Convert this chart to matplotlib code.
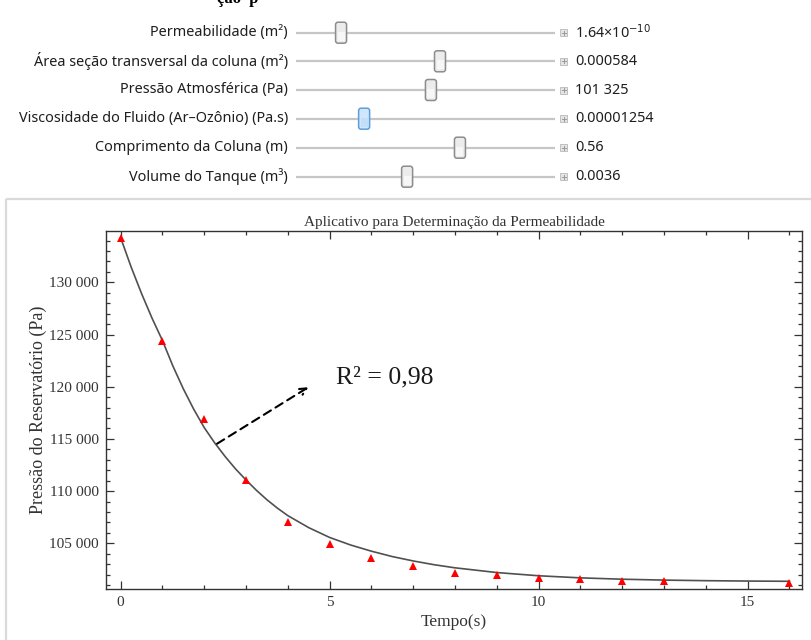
"""Permeability app screenshot: slider panel + reservoir pressure decay fit."""
import matplotlib

matplotlib.use("Agg")
import matplotlib.pyplot as plt
from matplotlib.patches import FancyBboxPatch, Rectangle
from matplotlib.ticker import FuncFormatter, MultipleLocator

# --- slider panel -----------------------------------------------------------
SLIDER_LABELS = [
    "Permeabilidade (m²)",
    "Área seção transversal da coluna (m²)",
    "Pressão Atmosférica (Pa)",
    "Viscosidade do Fluido (Ar–Ozônio) (Pa.s)",
    "Comprimento da Coluna (m)",
    "Volume do Tanque (m³)",
]
SLIDER_VALUES = ["1.64×10$^{-10}$", "0.000584", "101 325", "0.00001254", "0.56", "0.0036"]
SLIDER_POS = [0.174, 0.556, 0.521, 0.263, 0.633, 0.429]  # thumb position along track
SLIDER_ACTIVE = [False, False, False, True, False, False]

# --- measured data (red triangles) -------------------------------------------
t_obs = [0, 1, 2, 3, 4, 5, 6, 7, 8, 9, 10, 11, 12, 13, 16]
p_obs = [134250, 124400, 116900, 111050, 107050, 104900, 103600, 102800,
         102200, 101950, 101700, 101600, 101430, 101420, 101240]

# --- fitted curve ------------------------------------------------------------
t_fit = [0, 0.25, 0.5, 0.75, 1, 1.25, 1.5, 1.75, 2, 2.25, 2.5, 2.75, 3,
         3.25, 3.5, 3.75, 4, 4.5, 5, 5.5, 6, 6.5, 7, 7.5, 8, 9, 10, 11, 12,
         13, 14, 15, 16]
p_fit = [134275, 131475, 128925, 126575, 124425, 121985, 119795, 117835,
         116085, 114625, 113315, 112125, 111065, 110075, 109175, 108375,
         107655, 106505, 105565, 104845, 104250, 103735, 103315, 102955,
         102658, 102205, 101897, 101697, 101567, 101482, 101427, 101391,
         101368]

TEXT = "#333333"
W, H = 811, 640

fig = plt.figure(figsize=(W / 100, H / 100), dpi=100)

# overlay in pixel coords for the UI widgets
ui = fig.add_axes([0, 0, 1, 1], zorder=0)
ui.set_xlim(0, W)
ui.set_ylim(H, 0)
ui.axis("off")

ui_font = dict(family=["Noto Sans", "DejaVu Sans"], fontsize=10.4, color="#1e1e1e")
track_x0, track_x1 = 296, 555
row_y = [32.7, 61.3, 90, 118.7, 147.7, 176.7]

for label, val, pos, active, y in zip(SLIDER_LABELS, SLIDER_VALUES, SLIDER_POS,
                                      SLIDER_ACTIVE, row_y):
    ui.text(288, y, label, ha="right", va="center", **ui_font)
    ui.plot([track_x0, track_x1], [y, y], color="#c6c6c6", lw=1.6,
            solid_capstyle="butt")
    cx = track_x0 + pos * (track_x1 - track_x0)
    face, edge = ("#cfe6fb", "#5f9fd6") if active else ("#ececec", "#8c8c8c")
    ui.add_patch(FancyBboxPatch((cx - 5.5, y - 10.5), 11, 21,
                                boxstyle="round,pad=0,rounding_size=2.5",
                                fc=face, ec=edge, lw=1.1, zorder=3))
    ui.add_patch(Rectangle((cx - 3.5, y - 1), 7, 9, fc="white" if not active else "#b9dbf7",
                           ec="none", alpha=0.6, zorder=4))
    # small "+" opener icon
    ui.add_patch(Rectangle((560, y - 3.5), 7, 7, fc="#e4e4e4", ec="#b8b8b8", lw=0.6))
    ui.plot([561.5, 565.5], [y, y], color="#9a9a9a", lw=0.7)
    ui.plot([563.5, 563.5], [y - 2, y + 2], color="#9a9a9a", lw=0.7)
    ui.text(575, y, val, ha="left", va="center", **ui_font)

# clipped heading at the very top
ui.text(217, 3, "ção  p", ha="left", va="baseline", fontsize=12,
        family="Liberation Serif", fontweight="bold", color="black")

# light panel frame around the plot
ui.add_patch(Rectangle((6, 198.5), W + 10, H, fc="none", ec="#dadada", lw=1.6))

# --- main plot ---------------------------------------------------------------
left, right, top, bottom = 106, 802, 230.5, 589
ax = fig.add_axes([left / W, 1 - bottom / H, (right - left) / W, (bottom - top) / H],
                  zorder=2)
ax.patch.set_alpha(0)

ax.plot(t_fit, p_fit, color="#505050", lw=1.2, zorder=2)
ax.plot(t_obs, p_obs, ls="none", marker="^", ms=5.5, color="#ff0000",
        markeredgewidth=0, zorder=3)

ax.set_xlim(-0.35, 16.3)
ax.set_ylim(100630, 134960)
ax.xaxis.set_major_locator(MultipleLocator(5))
ax.xaxis.set_minor_locator(MultipleLocator(1))
ax.yaxis.set_major_locator(MultipleLocator(5000))
ax.yaxis.set_minor_locator(MultipleLocator(1000))
ax.set_yticks([105000, 110000, 115000, 120000, 125000, 130000])
ax.yaxis.set_major_formatter(FuncFormatter(lambda v, _: f"{int(v):,}".replace(",", " ")))

serif = ["Liberation Serif", "DejaVu Serif"]
ax.tick_params(which="both", direction="in", top=True, right=True,
               color="#333333", width=0.9, labelsize=11, labelcolor=TEXT, pad=5)
ax.tick_params(which="major", length=5.5)
ax.tick_params(which="minor", length=3.2)
for lab in ax.get_xticklabels() + ax.get_yticklabels():
    lab.set_family(serif)
for sp in ax.spines.values():
    sp.set_color("#333333")
    sp.set_linewidth(1.0)

ax.set_title("Aplicativo para Determinação da Permeabilidade", family=serif,
             fontsize=11, color=TEXT, pad=3)
ax.set_xlabel("Tempo(s)", family=serif, fontsize=12.5, color=TEXT, labelpad=4)
ax.set_ylabel("Pressão do Reservatório (Pa)", family=serif, fontsize=13,
              color=TEXT, labelpad=2)

# R² annotation with dashed arrow
ax.annotate("", xy=(4.55, 120100), xytext=(2.25, 114400),
            arrowprops=dict(arrowstyle="->", ls=(0, (4, 2.6)), lw=1.5,
                            color="black", mutation_scale=12))
ax.text(5.15, 120350, "R² = 0,98", family=serif, fontsize=18.5,
        color="#1a1a1a", ha="left", va="baseline")

fig.savefig("out.png", dpi=100, facecolor="white")
